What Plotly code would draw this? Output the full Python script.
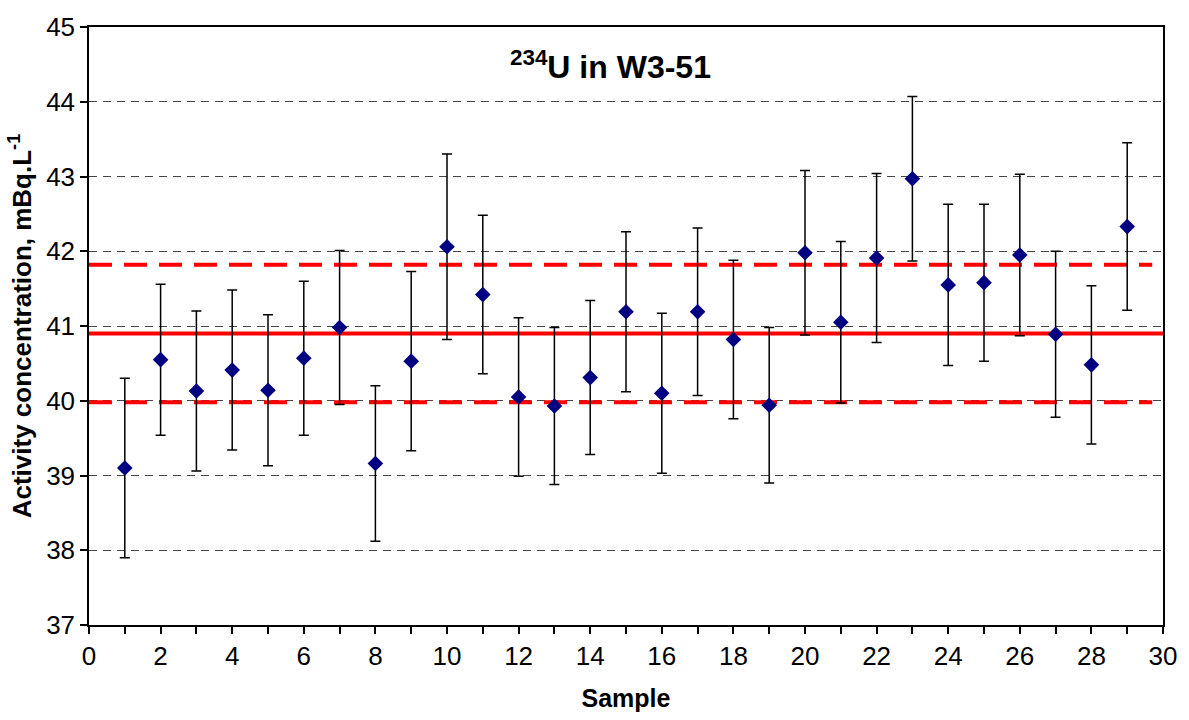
import plotly.graph_objects as go

# Sample numbers and measured 234U activity concentrations (mBq/L) with uncertainties
samples = list(range(1, 30))
activity = [39.10, 40.55, 40.13, 40.41, 40.14, 40.57, 40.98, 39.16, 40.53, 42.06,
            41.42, 40.05, 39.93, 40.31, 41.19, 40.10, 41.19, 40.82, 39.94, 41.98,
            41.05, 41.91, 42.97, 41.55, 41.58, 41.95, 40.89, 40.48, 42.33]
uncert = [1.20, 1.01, 1.07, 1.07, 1.01, 1.03, 1.03, 1.04, 1.20, 1.24,
          1.06, 1.06, 1.05, 1.03, 1.07, 1.07, 1.12, 1.06, 1.04, 1.10,
          1.08, 1.13, 1.10, 1.08, 1.05, 1.08, 1.11, 1.06, 1.12]

# Reference value and its acceptance limits
ref_value = 40.90
ref_upper = 41.82
ref_lower = 39.98
line_x = [0, 30.1]
dash_x = [0, 29.7]

font_family = "Arial, Liberation Sans, sans-serif"

fig = go.Figure()

fig.add_trace(go.Scatter(x=line_x, y=[ref_value, ref_value], mode="lines",
                         line=dict(color="#ff0000", width=4), showlegend=False,
                         cliponaxis=False, hoverinfo="skip"))
for lim in (ref_upper, ref_lower):
    fig.add_trace(go.Scatter(x=dash_x, y=[lim, lim], mode="lines",
                             line=dict(color="#ff0000", width=4, dash="23px,12px"),
                             showlegend=False, hoverinfo="skip"))

fig.add_trace(go.Scatter(
    x=samples, y=activity, mode="markers",
    marker=dict(symbol="diamond", size=12, color="#000080"),
    error_y=dict(type="data", array=uncert, visible=True, color="black",
                 thickness=1.5, width=5),
    showlegend=False,
))

fig.add_annotation(
    x=0.486, y=0.937, xref="paper", yref="paper",
    text="<b><sup>234</sup>U in W3-51</b>", showarrow=False,
    font=dict(family=font_family, size=32, color="black"),
    xanchor="center", yanchor="middle",
)

fig.update_xaxes(
    range=[0, 30], dtick=2, tick0=0,
    ticks="outside", ticklen=7, tickwidth=1.5, tickcolor="black",
    minor=dict(dtick=1, ticks="outside", ticklen=7, tickwidth=1.5, tickcolor="black"),
    showline=True, linecolor="black", linewidth=1.5, mirror=True,
    showgrid=False, zeroline=False,
    tickfont=dict(family=font_family, size=26, color="black"),
    title=dict(text="<b>Sample</b>", font=dict(family=font_family, size=25, color="black"),
               standoff=20),
)
fig.update_yaxes(
    range=[37, 45], dtick=1,
    ticks="outside", ticklen=7, tickwidth=1.5, tickcolor="black",
    showline=True, linecolor="black", linewidth=1.5, mirror=True,
    showgrid=True, gridcolor="#444444", gridwidth=1, griddash="8px,6px",
    zeroline=False,
    tickfont=dict(family=font_family, size=26, color="black"),
    title=dict(text="<b>Activity concentration, mBq.L<sup>-1</sup></b>",
               font=dict(family=font_family, size=26, color="black"), standoff=7),
)

fig.update_layout(
    width=1189, height=720,
    margin=dict(l=89, r=22, t=15, b=93),
    plot_bgcolor="white", paper_bgcolor="white",
)

fig.write_html("out.html")
